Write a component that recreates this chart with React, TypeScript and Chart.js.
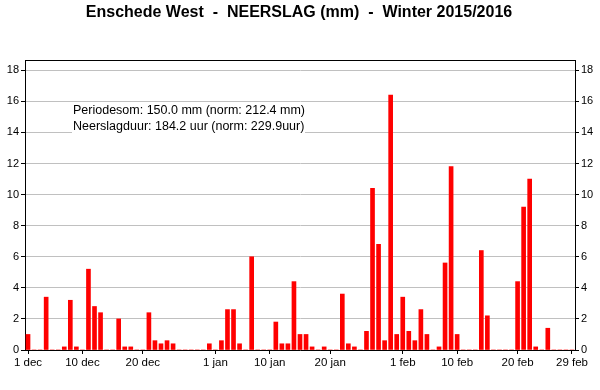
import React, { useEffect, useRef } from "react";
import { Chart, registerables } from "chart.js";

Chart.register(...registerables);

const TITLE = "Enschede West  -  NEERSLAG (mm)  -  Winter 2015/2016";
const INFO_LINES = [
  "Periodesom: 150.0 mm (norm: 212.4 mm)",
  "Neerslagduur: 184.2 uur (norm: 229.9uur)",
];

const MONTHS = ["dec", "jan", "feb"];
const MONTH_DAYS = [31, 31, 29];

const DEC_VALUES = [1.0, 0, 0, 3.4, 0, 0, 0.2, 3.2, 0.2, 0, 5.2, 2.8, 2.4, 0, 0, 2.0, 0.2, 0.2, 0, 0, 2.4, 0.6, 0.4, 0.6, 0.4, 0, 0, 0, 0, 0, 0.4];
const JAN_VALUES = [0, 0.6, 2.6, 2.6, 0.4, 0, 6.0, 0, 0, 0, 1.8, 0.4, 0.4, 4.4, 1.0, 1.0, 0.2, 0, 0.2, 0, 0, 3.6, 0.4, 0.2, 0, 1.2, 10.4, 6.8, 0.6, 16.4, 1.0];
const FEB_VALUES = [3.4, 1.2, 0.6, 2.6, 1.0, 0, 0.2, 5.6, 11.8, 1.0, 0, 0, 0, 6.4, 2.2, 0, 0, 0, 0, 4.4, 9.2, 11.0, 0.2, 0, 1.4, 0, 0, 0, 0];

const SHOWN_TICKS = ["1 dec", "10 dec", "20 dec", "1 jan", "10 jan", "20 jan", "1 feb", "10 feb", "20 feb", "29 feb"];
const Y_TICKS = [0, 2, 4, 6, 8, 10, 12, 14, 16, 18];
const Y_MAX = 18.66;

const LABELS: string[] = [];
MONTHS.forEach((m, mi) => {
  for (let d = 1; d <= MONTH_DAYS[mi]; d++) LABELS.push(`${d} ${m}`);
});
const VALUES = [...DEC_VALUES, ...JAN_VALUES, ...FEB_VALUES];

const FONT = "Arial, 'Liberation Sans', sans-serif";

export default function App() {
  const ref = useRef<HTMLCanvasElement | null>(null);
  useEffect(() => {
    if (!ref.current) return;
    const overlay = {
      id: "overlay",
      beforeDatasetsDraw(chart: any) {
        const { ctx } = chart;
        ctx.save();
        ctx.fillStyle = "#ffffff";
        ctx.fillRect(72, 103, 233, 31);
        ctx.fillStyle = "#000";
        ctx.font = `12.5px ${FONT}`;
        ctx.textBaseline = "middle";
        ctx.textAlign = "left";
        ctx.fillText(INFO_LINES[0], 73, 111);
        ctx.fillText(INFO_LINES[1], 73, 127);
        ctx.restore();
      },
      afterDraw(chart: any) {
        const { ctx, chartArea } = chart;
        ctx.save();
        ctx.strokeStyle = "#000";
        ctx.lineWidth = 1;
        ctx.beginPath();
        ctx.moveTo(chartArea.left, Math.round(chartArea.top) + 0.5);
        ctx.lineTo(chartArea.right, Math.round(chartArea.top) + 0.5);
        ctx.stroke();
        ctx.fillStyle = "#000";
        ctx.font = `bold 16px ${FONT}`;
        ctx.textAlign = "center";
        ctx.textBaseline = "middle";
        ctx.fillText(TITLE, 299, 12.5);
        ctx.restore();
      },
    };
    const filterTicks = (s: any) => {
      s.ticks = Y_TICKS.map((v) => ({ value: v }));
    };
    const yCommon = (pos: string, onArea: boolean) => ({
      position: pos,
      min: 0,
      max: Y_MAX,
      afterBuildTicks: filterTicks,
      afterFit: (s: any) => {
        s.width = 25;
      },
      border: { color: "#000", width: 1 },
      grid: {
        color: "#c0c0c0",
        drawOnChartArea: onArea,
        tickColor: "#000",
        tickLength: 4,
      },
      ticks: { color: "#000", font: { size: 11, family: FONT }, padding: 2 },
    });
    const chart = new Chart(ref.current, {
      type: "bar",
      data: {
        labels: LABELS,
        datasets: [
          {
            data: VALUES,
            backgroundColor: "#ff0000",
            borderWidth: 0,
            barThickness: 4,
            yAxisID: "y",
          },
        ],
      },
      plugins: [overlay],
      options: {
        animation: false,
        responsive: false,
        maintainAspectRatio: false,
        layout: { padding: { top: 60, left: 0, right: 0, bottom: 0 } },
        plugins: { legend: { display: false }, title: { display: false }, tooltip: { enabled: false } },
        scales: {
          x: {
            type: "category",
            offset: true,
            afterFit: (s: any) => {
              s.height = 40;
            },
            border: { color: "#000", width: 1 },
            grid: {
              offset: false,
              drawOnChartArea: false,
              tickLength: 4,
              tickColor: (c: any) => (SHOWN_TICKS.includes(LABELS[c.index]) ? "#000" : "rgba(0,0,0,0)"),
            },
            ticks: {
              autoSkip: false,
              maxRotation: 0,
              minRotation: 0,
              color: "#000",
              padding: 2,
              font: { size: 11.5, family: FONT },
              callback: (_v: any, i: number) => (SHOWN_TICKS.includes(LABELS[i]) ? LABELS[i] : ""),
            },
          },
          y: yCommon("left", true) as any,
          y2: yCommon("right", false) as any,
        },
      } as any,
    });
    return () => chart.destroy();
  }, []);
  return (
    <div style={{ position: "fixed", left: 0, top: 0, width: 600, height: 390, background: "#fff" }}>
      <canvas ref={ref} width={600} height={390} style={{ width: 600, height: 390 }} />
    </div>
  );
}
